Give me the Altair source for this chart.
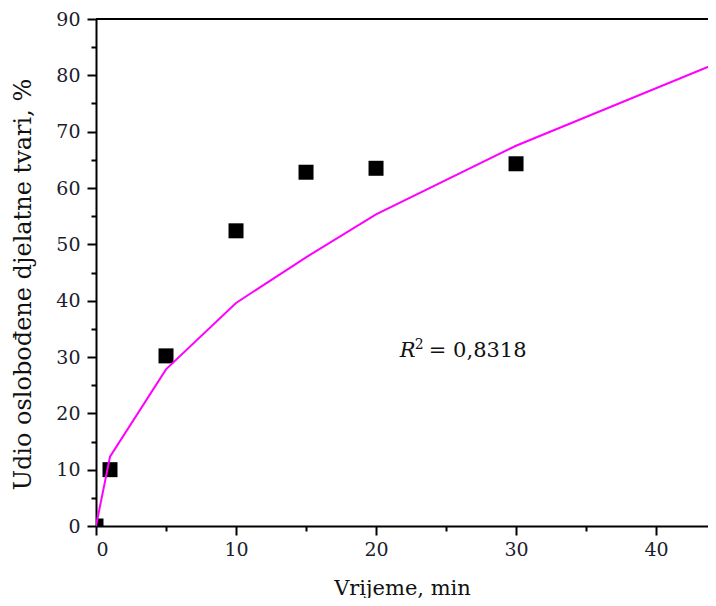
import altair as alt
import pandas as pd

# experimental data (squares)
time_exp = [0, 1, 5, 10, 15, 20, 30]
release_exp = [0, 10.0, 30.2, 52.4, 62.8, 63.5, 64.3]

# fitted model curve (magenta line)
time_fit = [0, 1, 5, 10, 15, 20, 30, 44.3]
release_fit = [0, 12.3, 27.8, 39.6, 47.7, 55.3, 67.5, 82.1]

x_major = [0, 10, 20, 30, 40]
x_minor = [5, 15, 25, 35]
y_major = [0, 10, 20, 30, 40, 50, 60, 70, 80, 90]
y_minor = [5, 15, 25, 35, 45, 55, 65, 75, 85]

annot_x = [21.7]
annot_y = [31.0]
annot_text = ["= 0,8318"]

df_exp = pd.DataFrame({"t": time_exp, "r": release_exp})
df_fit = pd.DataFrame({"t": time_fit, "r": release_fit})
df_ann = pd.DataFrame({"t": annot_x, "r": annot_y, "txt": annot_text})

FONT = "DejaVu Serif"
xs = alt.Scale(domain=[0, 43.71], nice=False, zero=False)
ys = alt.Scale(domain=[0, 90], nice=False)

common_axis = dict(
    domainColor="black", domainWidth=2, tickColor="black", tickWidth=2,
    grid=False, labelFont=FONT, labelColor="#1c1c2c", titleFont=FONT,
    titleColor="#111", titleFontWeight="normal",
)

points = alt.Chart(df_exp).mark_square(size=225, color="black", opacity=1, clip=True).encode(
    x=alt.X("t:Q", scale=xs, axis=alt.Axis(
        orient="bottom", values=x_major, tickSize=9, labelFontSize=19, labelPadding=5,
        title="Vrijeme, min", titleFontSize=21, titlePadding=18, **common_axis)),
    y=alt.Y("r:Q", scale=ys, axis=alt.Axis(
        orient="left", values=y_major, tickSize=9, labelFontSize=19, labelPadding=7,
        title="Udio oslobođene djelatne tvari, %", titleFontSize=24, titlePadding=20,
        titleY=265, **common_axis)),
)

minor = alt.Chart(df_exp).mark_point(opacity=0).encode(
    x=alt.X("t:Q", scale=xs, axis=alt.Axis(orient="bottom", values=x_minor, tickSize=5,
                                           labels=False, domain=False, title=None,
                                           grid=False, tickColor="black", tickWidth=2)),
    y=alt.Y("r:Q", scale=ys, axis=alt.Axis(orient="left", values=y_minor, tickSize=5,
                                           labels=False, domain=False, title=None,
                                           grid=False, tickColor="black", tickWidth=2)),
)

line = alt.Chart(df_fit).mark_line(color="#ff00ff", strokeWidth=2, clip=True).encode(
    x=alt.X("t:Q", scale=xs, axis=None),
    y=alt.Y("r:Q", scale=ys, axis=None),
)

top = alt.Chart(df_exp).mark_rule(color="black", strokeWidth=2).encode(
    y=alt.datum(90, scale=ys, axis=None),
)

r_text = alt.Chart(df_ann).mark_text(
    text="R", font=FONT, fontStyle="italic", fontSize=21, align="left",
    baseline="middle", color="#111").encode(
    x=alt.X("t:Q", scale=xs, axis=None), y=alt.Y("r:Q", scale=ys, axis=None))

sup_text = alt.Chart(df_ann).mark_text(
    text="2", font=FONT, fontSize=14, align="left", baseline="middle",
    dx=15, dy=-6, color="#111").encode(
    x=alt.X("t:Q", scale=xs, axis=None), y=alt.Y("r:Q", scale=ys, axis=None))

val_text = alt.Chart(df_ann).mark_text(
    font=FONT, fontSize=21, align="left", baseline="middle", dx=29, color="#111").encode(
    x=alt.X("t:Q", scale=xs, axis=None), y=alt.Y("r:Q", scale=ys, axis=None),
    text="txt:N")

chart = alt.layer(
    points, minor, top, line, r_text, sup_text, val_text,
).resolve_axis(
    x="independent", y="independent"
).properties(
    width=612, height=507,
    autosize=alt.AutoSizeParams(type="none"),
    padding={"left": 88, "top": 11, "right": 0, "bottom": 72},
).configure_view(stroke=None)

chart.save("out.html", embed_options={"renderer": "svg", "actions": False})
